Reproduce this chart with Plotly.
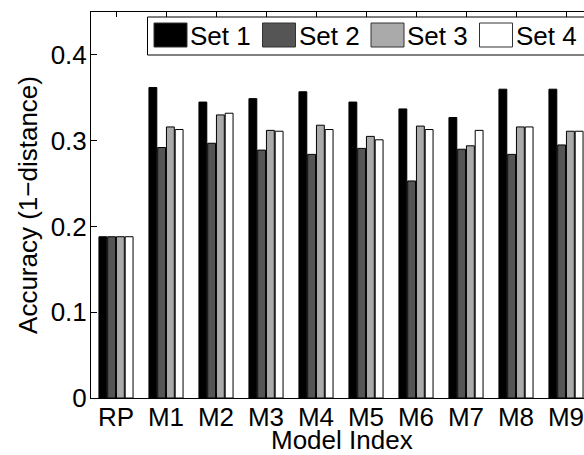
import plotly.graph_objects as go

categories = ["RP", "M1", "M2", "M3", "M4", "M5", "M6", "M7", "M8", "M9"]
series_names = ["Set 1", "Set 2", "Set 3", "Set 4"]
set1 = [0.188, 0.362, 0.345, 0.349, 0.357, 0.345, 0.337, 0.327, 0.360, 0.360]
set2 = [0.188, 0.292, 0.297, 0.289, 0.284, 0.291, 0.253, 0.290, 0.284, 0.295]
set3 = [0.188, 0.316, 0.330, 0.312, 0.318, 0.305, 0.317, 0.294, 0.316, 0.311]
set4 = [0.188, 0.313, 0.332, 0.311, 0.313, 0.301, 0.313, 0.312, 0.316, 0.311]
y_ticks = [0, 0.1, 0.2, 0.3, 0.4]
y_tick_text = ["0", "0.1", "0.2", "0.3", "0.4"]
x_title = "Model Index"
y_title = "Accuracy (1\u2212distance)"

series = [set1, set2, set3, set4]
colors = ["#000000", "#555555", "#aaaaaa", "#ffffff"]

W, H = 584, 455
ML, MR, MT, MB = 91, 0, 12, 57
FONT = "Liberation Sans, Arial, Helvetica, sans-serif"

fig = go.Figure()
for name, vals, c in zip(series_names, series, colors):
    fig.add_trace(go.Bar(
        x=categories, y=vals, name=name,
        marker=dict(color=c, line=dict(color="#000000", width=1)),
        showlegend=False,
    ))

plot_w = W - ML - MR
plot_h = H - MT - MB


def px_x(px):
    return (px - ML) / plot_w


def px_y(py):
    return 1 - (py - MT) / plot_h


shapes = []
annotations = []
# legend box (extends past the right edge like the reference)
shapes.append(dict(type="rect", xref="paper", yref="paper",
                   x0=px_x(147.5), x1=px_x(600), y0=px_y(55), y1=px_y(17),
                   line=dict(color="#000000", width=1), fillcolor="#ffffff",
                   layer="above"))
for i, (name, c) in enumerate(zip(series_names, colors)):
    sx = 154 + i * 108.5
    shapes.append(dict(type="rect", xref="paper", yref="paper",
                       x0=px_x(sx), x1=px_x(sx + 33), y0=px_y(47), y1=px_y(23),
                       line=dict(color="#333333", width=1), fillcolor=c,
                       layer="above"))
    annotations.append(dict(xref="paper", yref="paper", x=px_x(sx + 35),
                            y=px_y(36), text=name, showarrow=False,
                            xanchor="left", yanchor="middle", borderpad=0,
                            font=dict(size=26, color="#000000", family=FONT)))

# x-axis title (the axis extends beyond the visible canvas, so centre it on the full axis)
annotations.append(dict(xref="paper", yref="paper", x=px_x(341.5), y=px_y(455.5),
                        text=x_title, showarrow=False, xanchor="center",
                        yanchor="bottom", borderpad=0,
                        font=dict(size=26, color="#000000", family=FONT)))

fig.update_layout(
    width=W, height=H,
    margin=dict(l=ML, r=MR, t=MT, b=MB, pad=0),
    paper_bgcolor="#ffffff", plot_bgcolor="#ffffff",
    barmode="group", bargap=0.3, bargroupgap=0.1,
    font=dict(family=FONT, size=26, color="#000000"),
    shapes=shapes, annotations=annotations,
)
fig.update_xaxes(
    type="category", categoryorder="array", categoryarray=categories,
    range=[-0.5, -0.5 + plot_w / 50.0],
    showline=True, linecolor="#000000", linewidth=1, mirror="ticks",
    ticks="inside", ticklen=5, tickcolor="#000000", showgrid=False,
    tickfont=dict(size=26), ticklabelstandoff=-4,
)
fig.update_yaxes(
    range=[0, 0.45], tickvals=y_ticks, ticktext=y_tick_text,
    showline=True, linecolor="#000000", linewidth=1, mirror=False,
    ticks="inside", ticklen=6, tickcolor="#000000", showgrid=False,
    zeroline=False, tickfont=dict(size=26), ticklabelstandoff=-2,
    title=dict(text=y_title, font=dict(size=26), standoff=5),
)

fig.write_html("out.html", config={"displayModeBar": False},
               post_script="document.body.style.margin='0px';")
